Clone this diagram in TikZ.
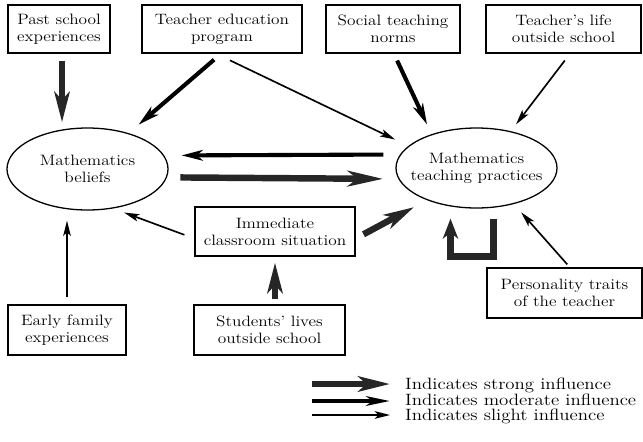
\documentclass[tikz,border=0pt]{standalone}
\usepackage{fontspec}
\setmainfont{Latin Modern Roman}[FakeStretch=1.15]
\usepackage{tikz}
\usetikzlibrary{arrows.meta,shapes.geometric,calc}

\begin{document}
\begin{tikzpicture}[x=0.03cm,y=-0.03cm,
    box/.style={draw,line width=1pt,inner sep=0pt,align=center,
        minimum height=1.44cm,font=\fontsize{12.8}{14.5}\selectfont},
    oval/.style={draw,ellipse,line width=1.1pt,inner sep=0pt,minimum width=4.83cm},
    ovaltext/.style={align=center,inner sep=0pt,font=\fontsize{12.8}{14.5}\selectfont},
    strong/.style={line width=5.5pt,black!85,-{Stealth[length=26pt,width=13pt,inset=7pt]}},
    moderate/.style={line width=3.5pt,-{Stealth[length=18pt,width=9pt,inset=5pt]}},
    slight/.style={line width=1.4pt,-{Stealth[length=13pt,width=6.5pt,inset=3pt]}},
    legend/.style={anchor=base west,inner sep=0pt,font=\fontsize{14}{14}\selectfont}]

    % 画布大小
    \useasboundingbox (0,0) rectangle (643,441);

    % 上排的四个因素
    \node[box,minimum width=3.06cm] (past) at (59,29) {Past school\\experiences};
    \node[box,minimum width=4.8cm] (teached) at (222,29) {Teacher education\\program};
    \node[box,minimum width=4.02cm] (social) at (393,29) {Social teaching\\norms};
    \node[box,minimum width=4.65cm] (life) at (563.5,29) {Teacher's life\\outside school};

    % 两个椭圆
    \node[oval,minimum height=2.46cm] (beliefs) at (87.5,169) {};
    \node[ovaltext] (beliefstext) at (beliefs) {Mathematics\\beliefs};
    \node[oval,minimum height=2.4cm] (practices) at (476.5,168) {};
    \node[ovaltext] (practicestext) at (practices) {Mathematics\\teaching practices};

    % 下方的因素
    \node[box,minimum width=4.8cm,minimum height=1.47cm] (situation) at (275,231.5) {Immediate\\classroom situation};
    \node[box,minimum width=3.54cm,minimum height=1.5cm] (family) at (67,330) {Early family\\experiences};
    \node[box,minimum width=4.53cm,minimum height=1.5cm] (students) at (269.5,330) {Students' lives\\outside school};
    \node[box,minimum width=4.65cm,minimum height=1.5cm] (traits) at (564.5,293) {Personality traits\\of the teacher};

    % 指向信念的箭头
    \draw[strong,shorten <=0.21cm,shorten >=0.15cm] (past.-83) -- (past.-83 |- beliefs.north);
    \draw[moderate,shorten <=0.28cm,shorten >=0.39cm] (teached.-92) -- (beliefs.41);
    \draw[slight,shorten <=0.32cm,shorten >=0.35cm] (situation.-175) -- (beliefs.-57);
    \draw[slight,shorten <=0.21cm,shorten >=0.3cm] (family.north) -- (family.north |- beliefs.south);

    % 指向教学实践的箭头
    \draw[slight,shorten <=0.47cm,shorten >=0.44cm] (teached.-104) -- (practices.162);
    \draw[moderate,shorten <=0.23cm,shorten >=0.32cm] (social.-88) -- (practices.143);
    \draw[slight,shorten <=0.26cm,shorten >=0.26cm] (life.-75) -- (practices.47);
    \draw[strong,shorten <=0.27cm,shorten >=0.44cm] (situation.-5.6) -- (practices.213.7);
    \draw[slight,shorten <=0.12cm,shorten >=0.33cm] (traits.78) -- (practices.-44.2);

    % 两个椭圆之间
    \draw[moderate,shorten <=0.5cm,shorten >=0.52cm] (practices.170) -- (beliefs.10.5);
    \draw[strong,-{Stealth[length=30pt,width=13pt,inset=8pt]},shorten <=0.4cm,shorten >=0.45cm]
        (beliefs.-6.5) -- (practices.-172.7);

    % 学生 -> 课堂情境
    \draw[strong,shorten <=0.15cm,shorten >=0.18cm] (students.north -| situation.south) -- (situation.south);

    % 教学实践的自身循环
    \draw[strong,line join=miter,-{Stealth[length=17pt,width=13pt,inset=5pt]}]
        ([shift={(17,10)}]practices.south) -- ++(0,38) -- ++(-43,0) -- ++(0,-38);

    % 图例
    \node[legend] (strongtext) at (405,389) {Indicates strong influence};
    \node[legend] (moderatetext) at (405,405) {Indicates moderate influence};
    \node[legend] (slighttext) at (405,420) {Indicates slight influence};
    \coordinate (strongstart) at (312,384);
    \coordinate (moderatestart) at (312,401);
    \coordinate (slightstart) at (312,415);
    \draw[strong,-{Stealth[length=27pt,width=13pt,inset=7pt]},shorten >=0.45cm] (strongstart) -- (strongstart -| strongtext.west);
    \draw[moderate,-{Stealth[length=20pt,width=8pt,inset=5pt]},shorten >=0.45cm] (moderatestart) -- (moderatestart -| moderatetext.west);
    \draw[slight,shorten >=0.45cm] (slightstart) -- (slightstart -| slighttext.west);

\end{tikzpicture}
\end{document}
